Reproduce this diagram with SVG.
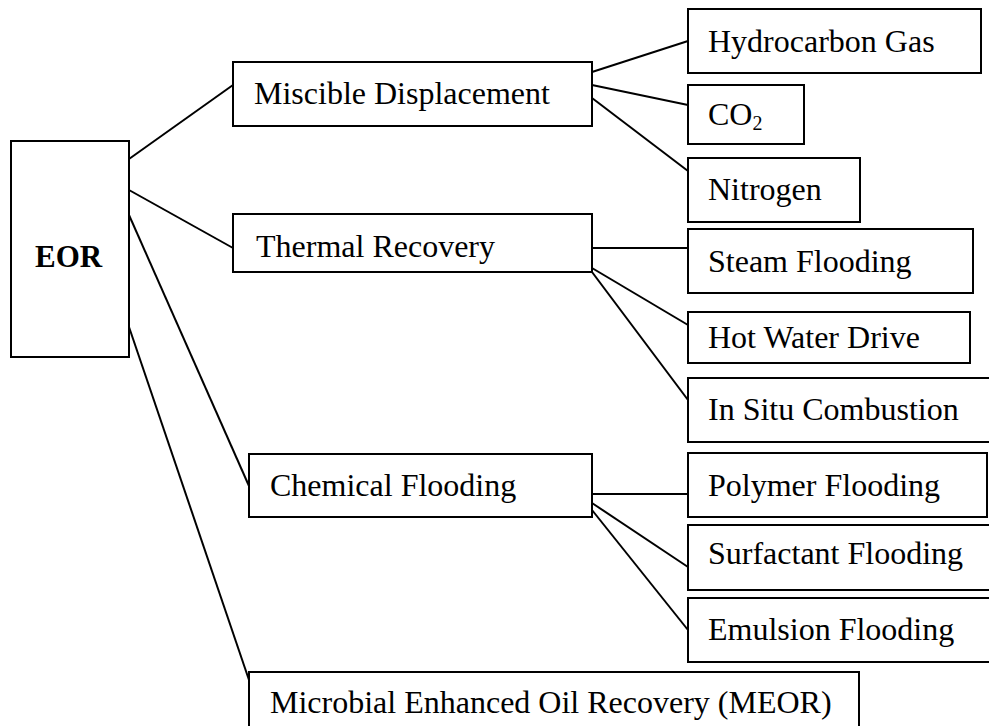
<svg xmlns="http://www.w3.org/2000/svg" width="989" height="726" viewBox="0 0 989 726">
<style>
rect{fill:#fff;stroke:#000;stroke-width:2}
text{font-family:"Liberation Serif","Times New Roman",serif;font-size:32px;fill:#000}
.c line{stroke:#000;stroke-width:2}
</style>
<rect x="0" y="0" width="989" height="726" style="stroke:none"/>
<g class="c" id="connectors">
<line x1="129" y1="159" x2="233" y2="85"/>
<line x1="129" y1="190" x2="233" y2="248"/>
<line x1="129" y1="215" x2="249" y2="486"/>
<line x1="129" y1="327" x2="249" y2="680"/>
<line x1="592" y1="72" x2="688" y2="41"/>
<line x1="592" y1="85" x2="688" y2="105"/>
<line x1="592" y1="98" x2="688" y2="171"/>
<line x1="592" y1="248" x2="688" y2="248"/>
<line x1="592" y1="268" x2="688" y2="325"/>
<line x1="592" y1="272" x2="688" y2="400"/>
<line x1="592" y1="494" x2="688" y2="494"/>
<line x1="592" y1="503" x2="688" y2="567"/>
<line x1="592" y1="510" x2="688" y2="630"/>
</g>
<g id="eor"><rect x="11" y="141" width="118" height="216"/><text x="35" y="267" style="font-weight:bold;font-size:31px">EOR</text></g>
<g id="miscible"><rect x="233" y="62" width="359" height="64"/><text x="254" y="104">Miscible Displacement</text></g>
<g id="thermal"><rect x="233" y="214" width="359" height="58"/><text x="256" y="257">Thermal Recovery</text></g>
<g id="chemical"><rect x="249" y="454" width="343" height="63"/><text x="270" y="496">Chemical Flooding</text></g>
<g id="meor"><rect x="249" y="672" width="610" height="70"/><text x="270" y="713">Microbial Enhanced Oil Recovery (MEOR)</text></g>
<g id="hydrocarbon"><rect x="688" y="9" width="293" height="64"/><text x="708" y="52">Hydrocarbon Gas</text></g>
<g id="co2"><rect x="688" y="85" width="116" height="59"/><text x="708" y="125">CO<tspan font-size="20" dy="5">2</tspan></text></g>
<g id="nitrogen"><rect x="688" y="158" width="172" height="64"/><text x="708" y="200">Nitrogen</text></g>
<g id="steam"><rect x="688" y="229" width="285" height="64"/><text x="708" y="272">Steam Flooding</text></g>
<g id="hotwater"><rect x="688" y="312" width="282" height="51"/><text x="708" y="348">Hot Water Drive</text></g>
<g id="insitu"><rect x="688" y="378" width="310" height="64"/><text x="708" y="420">In Situ Combustion</text></g>
<g id="polymer"><rect x="688" y="453" width="299" height="64"/><text x="708" y="496">Polymer Flooding</text></g>
<g id="surfactant"><rect x="688" y="525" width="310" height="65"/><text x="708" y="564">Surfactant Flooding</text></g>
<g id="emulsion"><rect x="688" y="598" width="310" height="64"/><text x="708" y="640">Emulsion Flooding</text></g>
</svg>
